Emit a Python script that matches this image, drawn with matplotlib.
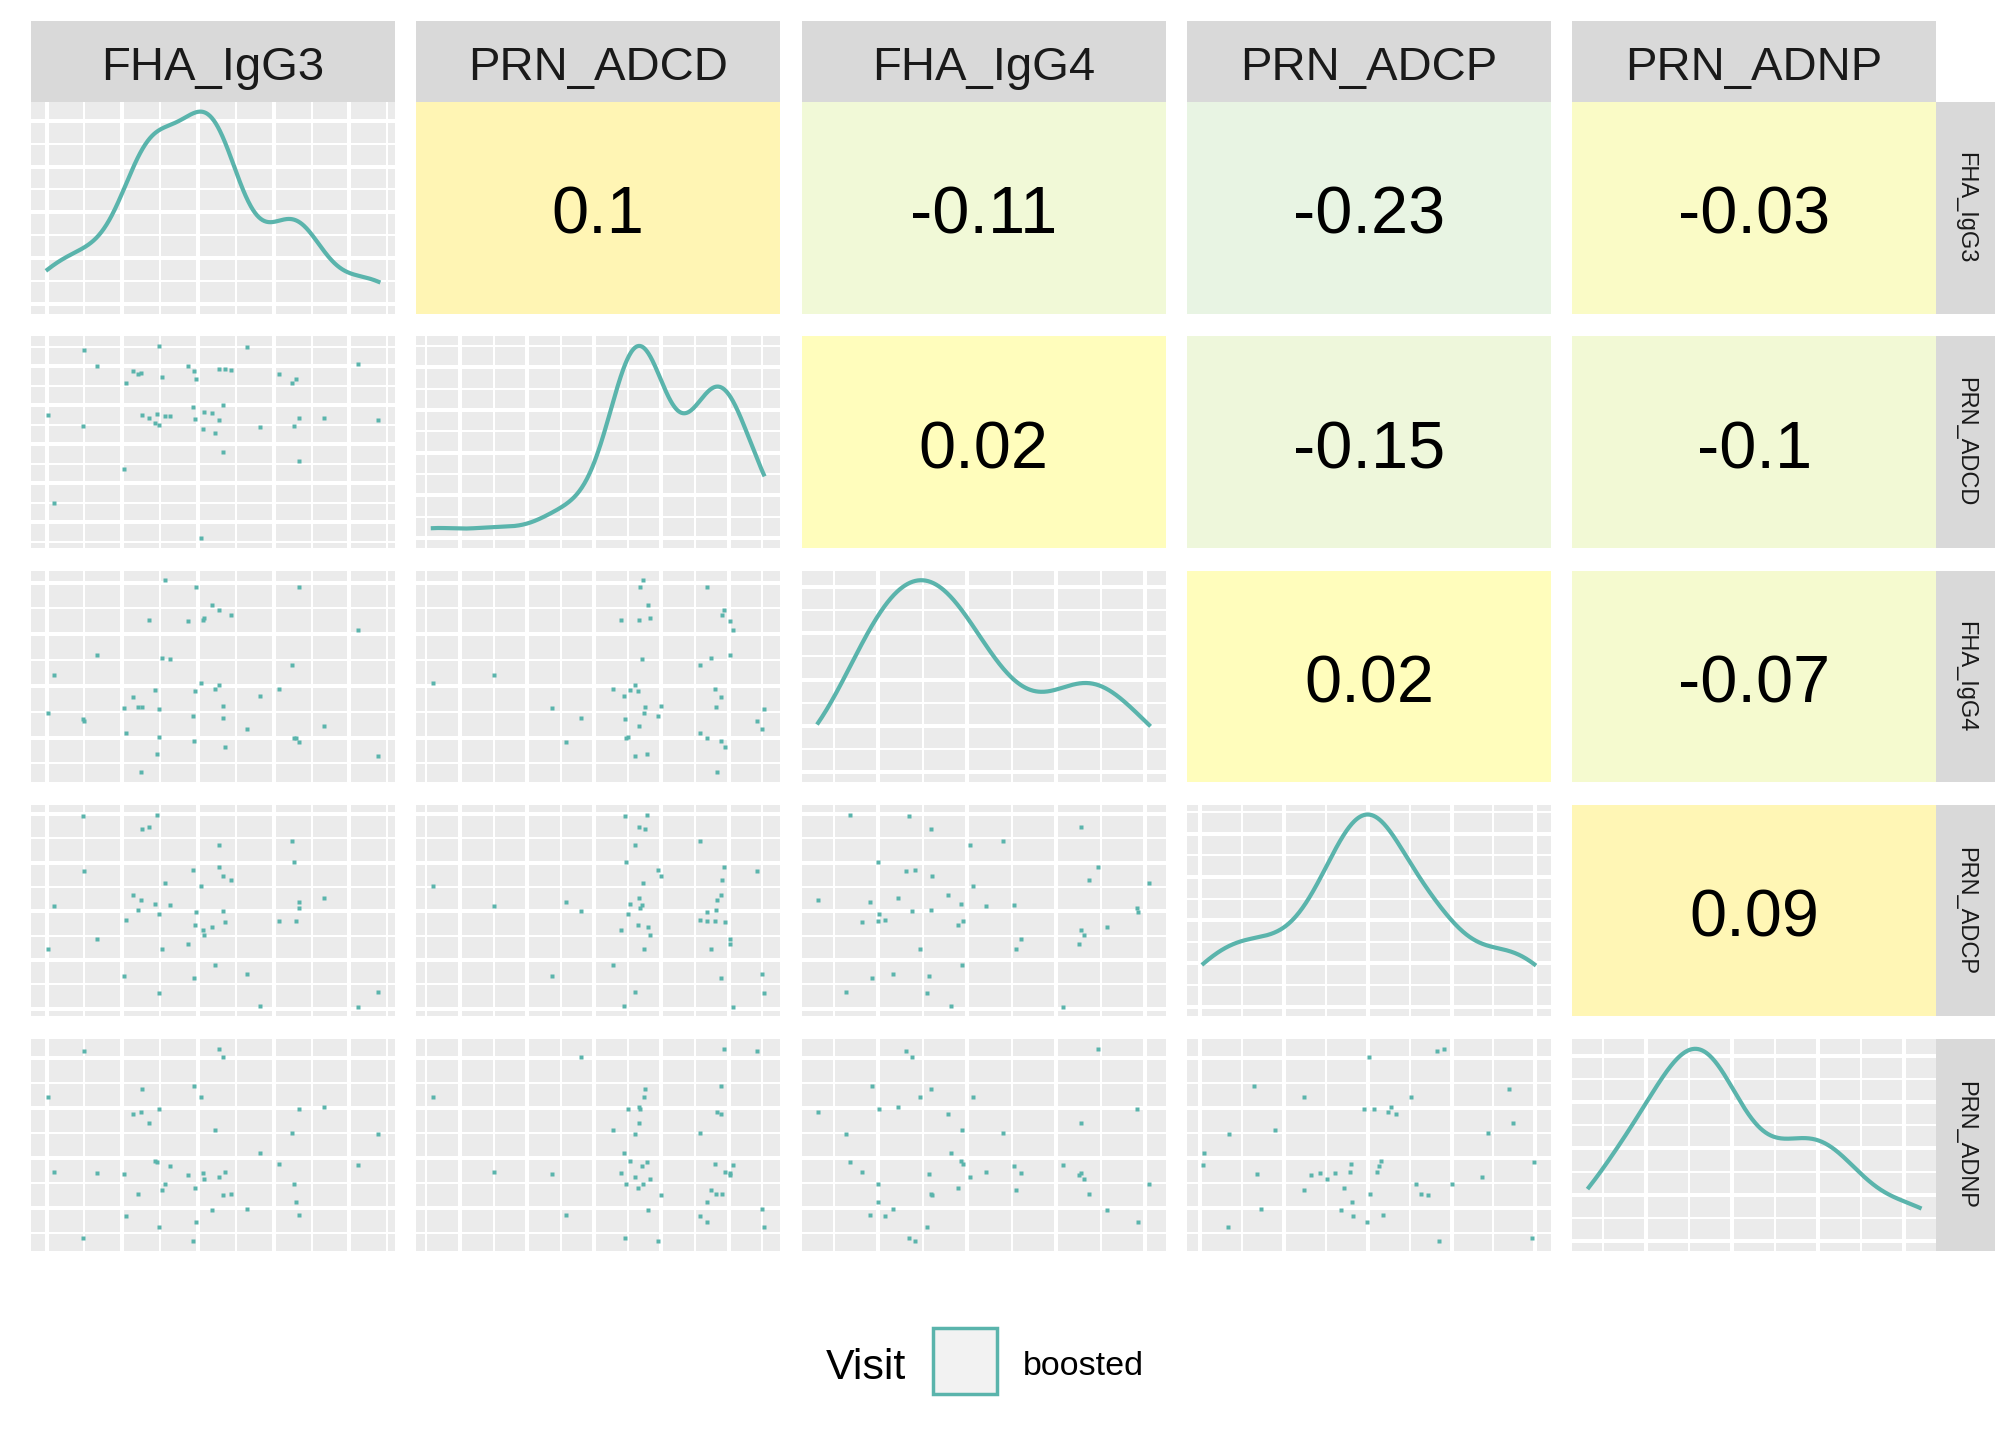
import numpy as np
import matplotlib
matplotlib.use("Agg")
import matplotlib.pyplot as plt
from matplotlib.colors import LinearSegmentedColormap, Normalize
from matplotlib.patches import Rectangle

plt.rcParams['font.family'] = ['Liberation Sans', 'DejaVu Sans']

variables = ["FHA_IgG3", "PRN_ADCD", "FHA_IgG4", "PRN_ADCP", "PRN_ADNP"]

# values in arbitrary units
fha_igg3 = [570, 165, 582, 495, 339, 516, 57, 885, 390, 810, 336, 312, 360, 558, 789, 1047,
            693, 378, 384, 750, 987, 423, 75, 588, 204, 522, 285, 477, 570, 525, 408, 795,
            498, 399, 327, 606, 582, 801, 654, 549, 810, 291, 501, 390, 162, 492]
prn_adcd = [924, 1023, 498, 915, 690, 54, 687, 672, 639, 675, 903, 915, 672, 594, 852, 660,
            627, 645, 696, 897, 951, 681, 237, 927, 942, 618, 411, 942, 660, 705, 684, 633,
            669, 885, 900, 918, 738, 873, 1038, 699, 453, 852, 873, 1044, 630, 729]
fha_igg4 = [888, 315, 333, 213, 390, 513, 357, 291, 234, 1005, 51, 438, 837, 480, 603, 135,
            447, 477, 147, 483, 783, 636, 552, 183, 657, 837, 384, 831, 504, 846, 1041, 231,
            468, 642, 390, 861, 393, 231, 276, 915, 207, 252, 1008, 378, 324, 342]
prn_adcp = [768, 747, 543, 198, 963, 669, 348, 609, 528, 558, 600, 624, 975, 261, 900, 123,
            51, 579, 1038, 489, 48, 573, 567, 486, 396, 441, 207, 369, 882, 417, 684, 792,
            468, 348, 546, 699, 720, 492, 219, 459, 585, 495, 537, 120, 1032, 753]
prn_adnp = [610, 604, 586, 499, 490, 466, 466, 436, 430, 430, 421, 415, 388, 367, 358, 355,
            298, 274, 271, 265, 262, 259, 241, 241, 238, 238, 235, 232, 226, 220, 205, 205,
            193, 187, 175, 175, 172, 151, 130, 127, 112, 109, 91, 76, 43, 34]

# correlations printed in the upper triangle (row, col) -> value
corr_labels = {(0, 1): "0.1", (0, 2): "-0.11", (0, 3): "-0.23", (0, 4): "-0.03",
               (1, 2): "0.02", (1, 3): "-0.15", (1, 4): "-0.1",
               (2, 3): "0.02", (2, 4): "-0.07",
               (3, 4): "0.09"}

data = [np.array(v, dtype=float) for v in (fha_igg3, prn_adcd, fha_igg4, prn_adcp, prn_adnp)]

# grid breaks per variable: (first major, major step)
breaks = [(54, 226.5), (135, 201), (231, 266), (39, 250.5), (133, 150)]
# density peak height in units of major density step, per diagonal panel
dens_ratio = [4.20, 4.50, 4.14, 4.44, 4.15]

teal = "#5AB4AC"
panel_bg = "#EBEBEB"
strip_bg = "#D9D9D9"

cmap = LinearSegmentedColormap.from_list(
    "corr", [(0.0, "#E8F4E3"), (0.364, "#F1F9D7"), (0.758, "#FFFDBC"), (1.0, "#FFF5B4")])
norm = Normalize(vmin=-0.23, vmax=0.10)

W, H = 2016, 1440
fig = plt.figure(figsize=(W / 100, H / 100), dpi=100)

x0, xstep, pw = 31, 385.3, 364
y0, ystep, ph = 102, 234.3, 211.5


def px_axes(left, top, w, h):
    return fig.add_axes([left / W, 1 - (top + h) / H, w / W, h / H])


def limits(v):
    r = v.max() - v.min()
    return v.min() - 0.05 * r, v.max() + 0.05 * r


def grid_ticks(lo, hi, first, step):
    k0 = np.floor((lo - first) / step) - 1
    k1 = np.ceil((hi - first) / step) + 1
    maj = first + step * np.arange(k0, k1 + 1)
    mnr = maj + step / 2
    return maj[(maj >= lo) & (maj <= hi)], mnr[(mnr >= lo) & (mnr <= hi)]


def kde_nrd0(v, n=512):
    sd = v.std(ddof=1)
    iqr = np.subtract(*np.percentile(v, [75, 25]))
    bw = 0.9 * min(sd, iqr / 1.34) * len(v) ** -0.2
    xs = np.linspace(v.min(), v.max(), n)
    d = np.exp(-0.5 * ((xs[:, None] - v[None, :]) / bw) ** 2).sum(axis=1)
    d /= len(v) * bw * np.sqrt(2 * np.pi)
    return xs, d


def style_grid(ax):
    ax.set_facecolor(panel_bg)
    ax.grid(which="major", color="white", lw=2.9)
    ax.grid(which="minor", color="white", lw=1.45)
    ax.set_axisbelow(True)


n = len(variables)
for i in range(n):
    for j in range(n):
        ax = px_axes(x0 + j * xstep, y0 + i * ystep, pw, ph)
        for s in ax.spines.values():
            s.set_visible(False)
        ax.tick_params(which="both", length=0, labelleft=False, labelbottom=False)
        xlo, xhi = limits(data[j])
        if i < j:
            ax.set_facecolor(cmap(norm(float(corr_labels[(i, j)]))))
            ax.set_xticks([])
            ax.set_yticks([])
            ax.text(0.5, 0.377, corr_labels[(i, j)], transform=ax.transAxes,
                    ha="center", va="baseline", fontsize=48, color="black")
            continue
        xmaj, xmin = grid_ticks(xlo, xhi, *breaks[j])
        ax.set_xlim(xlo, xhi)
        ax.set_xticks(xmaj)
        ax.set_xticks(xmin, minor=True)
        if i == j:
            xs, d = kde_nrd0(data[j])
            m = d.max()
            ax.plot(xs, d, color=teal, lw=3)
            ax.set_ylim(-0.05 * m, 1.05 * m)
            ymaj, ymin = grid_ticks(-0.05 * m, 1.05 * m, 0, m / dens_ratio[i])
        else:
            ax.plot(data[j], data[i], "s", ms=3.2, color=teal, mec="none")
            ylo, yhi = limits(data[i])
            ax.set_ylim(ylo, yhi)
            ymaj, ymin = grid_ticks(ylo, yhi, *breaks[i])
        ax.set_yticks(ymaj)
        ax.set_yticks(ymin, minor=True)
        style_grid(ax)

# top strips
for j, name in enumerate(variables):
    sx = px_axes(x0 + j * xstep, 21, pw, 81)
    sx.set_facecolor(strip_bg)
    sx.set_xticks([])
    sx.set_yticks([])
    for s in sx.spines.values():
        s.set_visible(False)
    sx.text(0.5, 0.272, name, ha="center", va="baseline", fontsize=34, color="#1A1A1A",
            transform=sx.transAxes)

# right strips
for i, name in enumerate(variables):
    sx = px_axes(1936, y0 + i * ystep, 59, ph)
    sx.set_facecolor(strip_bg)
    sx.set_xticks([])
    sx.set_yticks([])
    for s in sx.spines.values():
        s.set_visible(False)
    sx.text(0.5, 0.5, name, ha="center", va="center", fontsize=17, color="#1A1A1A",
            rotation=-90, transform=sx.transAxes)

# legend
fig.text(826 / W, 1 - 1379 / H, "Visit", fontsize=31, ha="left", va="baseline")
fig.add_artist(Rectangle((933 / W, 1 - 1394 / H), 64 / W, 66 / H, transform=fig.transFigure,
                         facecolor="#F2F2F2", edgecolor=teal, lw=2.5))
fig.text(1023 / W, 1 - 1375 / H, "boosted", fontsize=24.5, ha="left", va="baseline")

fig.savefig("out.png", dpi=100)
